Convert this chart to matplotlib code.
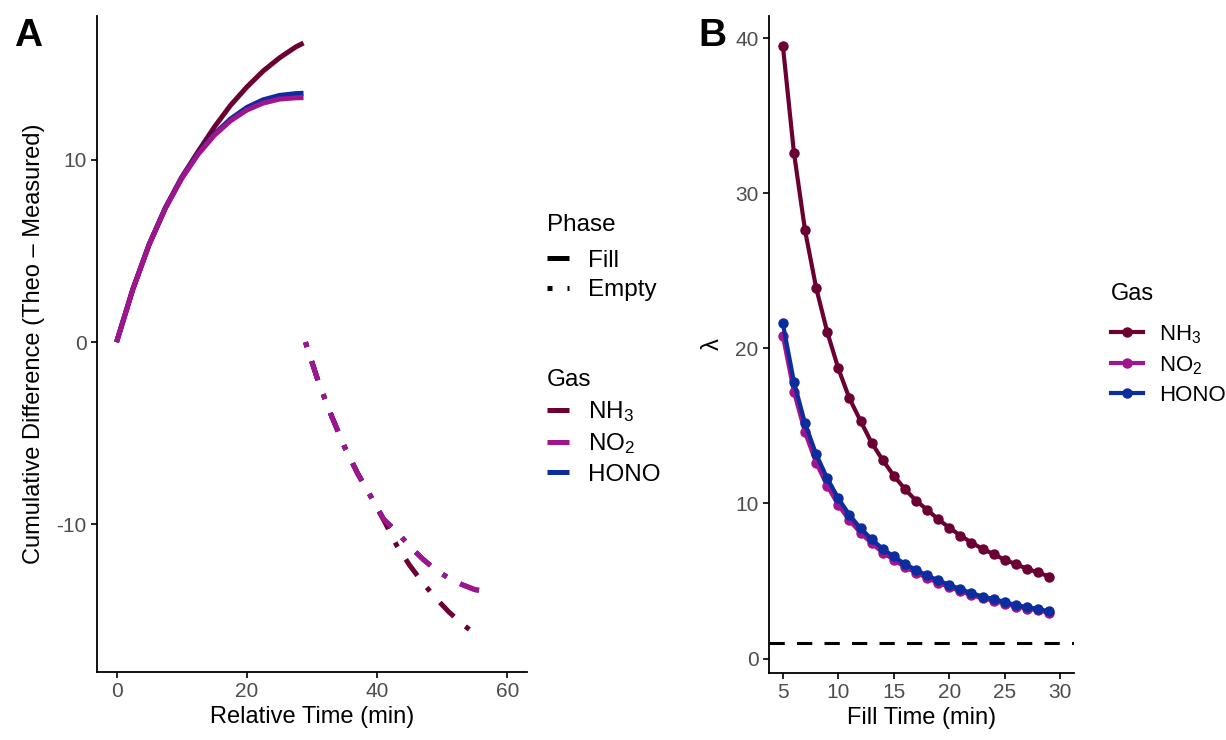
import numpy as np
import matplotlib
matplotlib.use("Agg")
import matplotlib.pyplot as plt
from matplotlib.lines import Line2D

plt.rcParams['font.family'] = ['Liberation Sans', 'DejaVu Sans']
plt.rcParams['mathtext.fontset'] = 'custom'
plt.rcParams['mathtext.rm'] = 'Liberation Sans'
plt.rcParams['mathtext.it'] = 'Liberation Sans:italic'
plt.rcParams['mathtext.default'] = 'regular'
plt.rcParams['axes.unicode_minus'] = False

# ---- data: panel A (cumulative difference) ----
fill_time = [0, 2.5, 5, 7.5, 10, 12.5, 15, 17.5, 20, 22.5, 25, 27.5, 28.7]
nh3_fill = [0, 2.9, 5.37, 7.38, 9.05, 10.45, 11.8, 13.0, 14.0, 14.88, 15.6, 16.2, 16.42]
no2_fill = [0, 2.9, 5.35, 7.35, 8.98, 10.3, 11.35, 12.15, 12.74, 13.12, 13.34, 13.41, 13.42]
hono_fill = [0, 2.9, 5.36, 7.37, 9.01, 10.34, 11.42, 12.25, 12.88, 13.3, 13.54, 13.64, 13.66]

empty_time = [29, 31, 33, 35, 37, 39, 41, 43, 45, 47, 49, 51, 53, 55, 55.7]
nh3_empty = [0, -2.2, -4.05, -5.75, -7.2, -8.45, -9.75, -11.15, -12.25, -13.2, -14.05, -14.8, -15.45, -16.0, -16.26]
no2_empty = [0, -2.2, -4.05, -5.75, -7.2, -8.45, -9.72, -10.4, -11.2, -11.9, -12.5, -12.95, -13.3, -13.58, -13.62]
hono_empty = [0, -2.2, -4.05, -5.75, -7.2, -8.45, -9.72, -10.4, -11.2, -11.9, -12.5, -12.95, -13.3, -13.58, -13.62]

# ---- data: panel B (lambda vs fill time) ----
fill_min = list(range(5, 30))
nh3_lambda = [39.5, 32.6, 27.6, 23.9, 21.05, 18.7, 16.77, 15.33, 13.91, 12.8, 11.79, 10.93, 10.18,
              9.6, 8.98, 8.44, 7.93, 7.48, 7.07, 6.73, 6.37, 6.09, 5.79, 5.55, 5.29]
no2_lambda = [20.8, 17.19, 14.58, 12.62, 11.13, 9.9, 8.91, 8.1, 7.43, 6.83, 6.36, 5.9, 5.54,
              5.19, 4.88, 4.61, 4.34, 4.09, 3.88, 3.72, 3.54, 3.35, 3.22, 3.1, 2.95]
hono_lambda = [21.6, 17.83, 15.16, 13.18, 11.62, 10.33, 9.26, 8.4, 7.7, 7.07, 6.58, 6.1, 5.72,
               5.36, 5.04, 4.76, 4.48, 4.22, 4.0, 3.84, 3.65, 3.45, 3.32, 3.2, 3.05]
lambda_ref = 1

gas_labels = ['NH$_3$', 'NO$_2$', 'HONO']
gas_colors = ['#6B0032', '#A0148E', '#0B2D9E']
tick_grey = '#4D4D4D'

fig = plt.figure(figsize=(12.26, 7.4), dpi=100)
axA = fig.add_axes([97 / 1226, 68 / 740, 430 / 1226, 656 / 740])
axB = fig.add_axes([769 / 1226, 67 / 740, 305 / 1226, 657 / 740])

lw_a = 3.6
dotdash = (1, 3, 4, 3)

## panel A
fills = [nh3_fill, hono_fill, no2_fill]
empties = [nh3_empty, hono_empty, no2_empty]
order = [0, 2, 1]
for k, i in enumerate(order):
    axA.plot(fill_time, fills[k], color=gas_colors[i], lw=lw_a, solid_capstyle='butt')
for k, i in enumerate(order):
    axA.plot(empty_time, empties[k], color=gas_colors[i], lw=lw_a,
             dashes=dotdash, dash_capstyle='butt')

axA.set_xlim(-3, 63)
axA.set_ylim(-18.1, 17.9)
axA.set_xticks([0, 20, 40, 60])
axA.set_yticks([-10, 0, 10])
axA.set_xlabel("Relative Time (min)", fontsize=17, labelpad=3)
axA.set_ylabel("Cumulative Difference (Theo \u2013 Measured)", fontsize=17, labelpad=8)

## panel B
axB.axhline(lambda_ref, color='black', lw=2.2, dashes=(5, 4), dash_capstyle='butt')
series_b = [nh3_lambda, no2_lambda, hono_lambda]
for i in range(3):
    axB.plot(fill_min, series_b[i], color=gas_colors[i], lw=3.0, marker='o', ms=6.5)
axB.set_xlim(3.75, 31.25)
axB.set_ylim(-0.93, 41.42)
axB.set_xticks([5, 10, 15, 20, 25, 30])
axB.set_yticks([0, 10, 20, 30, 40])
axB.set_xlabel("Fill Time (min)", fontsize=17, labelpad=3)
axB.set_ylabel("\u03bb", fontsize=17, labelpad=8)

for ax in [axA, axB]:
    for side in ['top', 'right']:
        ax.spines[side].set_visible(False)
    for side in ['left', 'bottom']:
        ax.spines[side].set_linewidth(1.3)
    ax.tick_params(labelsize=15, labelcolor=tick_grey, length=4.5, width=1.2, pad=3)

fig.text(14 / 1226, 1 - 36 / 740, "A", fontsize=28, fontweight='bold', va='center', ha='left')
fig.text(698 / 1226, 1 - 36 / 740, "B", fontsize=28, fontweight='bold', va='center', ha='left')

## legends
leg_kw = dict(loc='upper left', frameon=False, fontsize=17.5, title_fontsize=17.5,
              handlelength=0.9, handletextpad=0.8, labelspacing=0.3, alignment='left',
              borderaxespad=0, borderpad=0)
phase_handles = [Line2D([], [], color='black', lw=3.6, solid_capstyle='butt'),
                 Line2D([], [], color='black', lw=3.6, dashes=dotdash, dash_capstyle='butt')]
leg1 = fig.legend(phase_handles, ['Fill', 'Empty'], title='Phase',
                  bbox_to_anchor=(547 / 1226, 1 - 214 / 740), **leg_kw)
leg1._legend_box.sep = 10
gas_handles_a = [Line2D([], [], color=c, lw=3.6, solid_capstyle='butt') for c in gas_colors]
leg2 = fig.legend(gas_handles_a, gas_labels, title='Gas',
                  bbox_to_anchor=(547 / 1226, 1 - 369 / 740), **leg_kw)
leg2._legend_box.sep = 6
gas_handles_b = [Line2D([], [], color=c, lw=3.0, marker='o', ms=6.5) for c in gas_colors]
leg_kw_b = dict(leg_kw)
leg_kw_b['fontsize'] = 16
leg_kw_b['title_fontsize'] = 17
leg_kw_b['handlelength'] = 1.45
leg_kw_b['handletextpad'] = 0.7
leg_kw_b['labelspacing'] = 0.38
leg3 = fig.legend(gas_handles_b, gas_labels, title='Gas',
                  bbox_to_anchor=(1111 / 1226, 1 - 283 / 740), **leg_kw_b)
leg3._legend_box.sep = 13

plt.savefig("out.png", dpi=100)
